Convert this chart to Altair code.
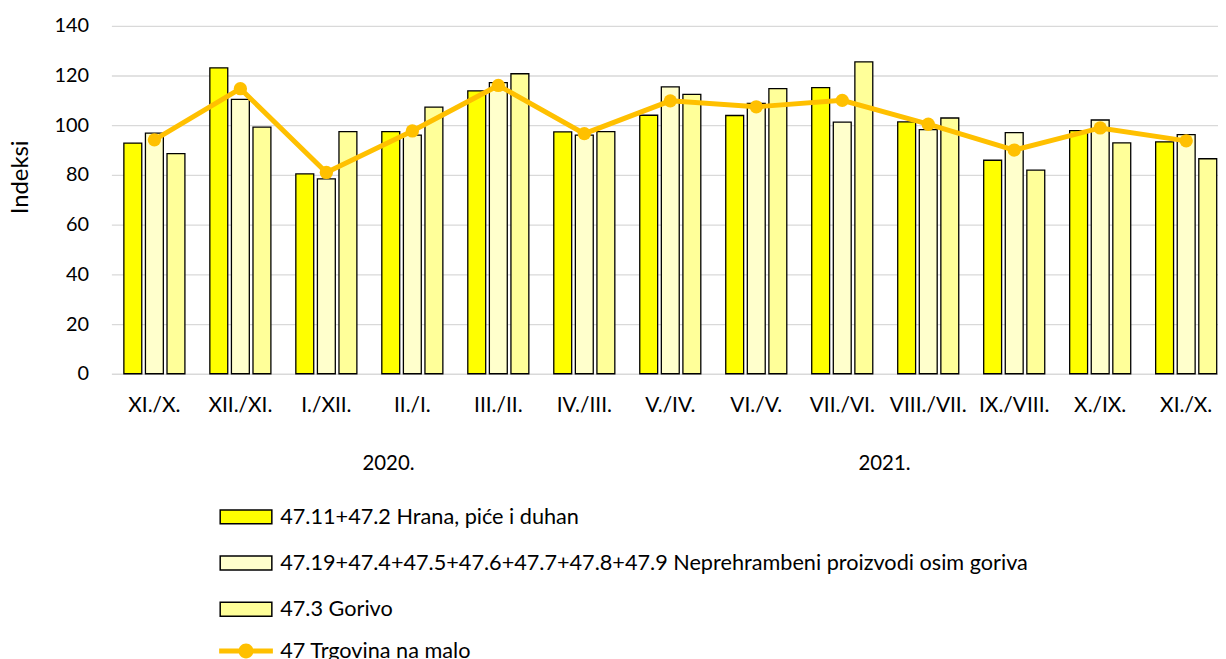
import altair as alt
import pandas as pd

# ---- data ----
periods = ["XI./X. 2020", "XII./XI. 2020", "I./XII. 2021", "II./I. 2021", "III./II. 2021",
           "IV./III. 2021", "V./IV. 2021", "VI./V. 2021", "VII./VI. 2021", "VIII./VII. 2021",
           "IX./VIII. 2021", "X./IX. 2021", "XI./X. 2021"]
hrana = [92.8, 123.1, 80.4, 97.4, 113.8, 97.3, 104.0, 103.9, 115.1, 101.3, 85.9, 97.8, 93.3]
neprehrambeni = [96.8, 110.4, 78.4, 96.0, 117.1, 96.0, 115.4, 108.8, 101.2, 98.2, 97.0, 102.1, 96.2]
gorivo = [88.6, 99.2, 97.4, 107.3, 120.7, 97.4, 112.4, 114.7, 125.5, 102.9, 81.9, 92.9, 86.5]
trgovina = [94.1, 114.7, 81.0, 97.7, 116.0, 96.6, 109.8, 107.4, 110.0, 100.4, 90.0, 98.9, 93.7]

series_names = ["47.11+47.2 Hrana, piće i duhan",
                "47.19+47.4+47.5+47.6+47.7+47.8+47.9 Neprehrambeni proizvodi osim goriva",
                "47.3 Gorivo"]
series_colors = ["#FFFF00", "#FFFFCC", "#FFFF99"]
line_name = "47 Trgovina na malo"
line_color = "#FFC000"

year_labels = ["2020.", "2021."]
year_anchor = ["II./I. 2021", "VIII./VII. 2021"]
year_dx = [-24, -44]

FONT = "Lato"

rows = []
for i, p in enumerate(periods):
    for s, vals in zip(series_names, [hrana, neprehrambeni, gorivo]):
        rows.append({"period": p, "series": s, "value": vals[i]})
bars_df = pd.DataFrame(rows)
line_df = pd.DataFrame({"period": periods, "value": trgovina, "lname": line_name})

x_scale = alt.Scale(domain=periods, paddingInner=0.29, paddingOuter=0.08, align=0.906)
x_axis = alt.Axis(title=None, labelExpr="split(datum.label, ' ')[0]", ticks=False, domain=False,
                  grid=False, labelFont=FONT, labelFontSize=21, labelColor="#000000",
                  labelBaseline="alphabetic", labelPadding=38, labelAngle=0)
y_scale = alt.Scale(domain=[0, 140], nice=False)
y_axis = alt.Axis(title="Indeksi", values=list(range(0, 141, 20)), ticks=False, domain=False,
                  grid=True, gridColor="#D9D9D9", gridWidth=1.3, labelFont=FONT, labelFontSize=20,
                  labelColor="#000000", labelPadding=23, titleFont=FONT, titleFontSize=24,
                  titleFontWeight="normal", titleColor="#000000", titleX=-84, titleY=152,
                  titleBaseline="alphabetic", titleAngle=270)

bar_symbol = "M-3.71,-1H3.71V1H-3.71Z"
line_symbol = ("M-3.86,-0.36H3.86V0.36H-3.86Z "
               "M1.07,0A1.07,1.07 0 1,1 -1.07,0A1.07,1.07 0 1,1 1.07,0Z")

bars = alt.Chart(bars_df).mark_bar(stroke="#000000", strokeWidth=1.3).encode(
    x=alt.X("period:N", scale=x_scale, axis=x_axis, sort=periods),
    xOffset=alt.XOffset("series:N", scale=alt.Scale(domain=series_names, paddingInner=0.17, paddingOuter=0)),
    y=alt.Y("value:Q", scale=y_scale, axis=y_axis),
    color=alt.Color("series:N", scale=alt.Scale(domain=series_names, range=series_colors),
                    legend=alt.Legend(title=None, orient="none", legendX=124.5, legendY=483,
                                      direction="vertical", symbolType=bar_symbol, symbolSize=196,
                                      symbolStrokeColor="#000000", symbolStrokeWidth=1.5,
                                      symbolOpacity=1, labelFont=FONT, labelFontSize=21.8,
                                      labelColor="#000000", labelOffset=23.5, labelLimit=2000,
                                      rowPadding=23.5, padding=0)),
)

line = alt.Chart(line_df).mark_line(color=line_color, strokeWidth=5).encode(
    x=alt.X("period:N", scale=x_scale, sort=periods),
    y=alt.Y("value:Q", scale=y_scale),
)

points = alt.Chart(line_df).mark_point(filled=True, size=180, opacity=1).encode(
    x=alt.X("period:N", scale=x_scale, sort=periods),
    y=alt.Y("value:Q", scale=y_scale),
    color=alt.Color("lname:N", scale=alt.Scale(domain=[line_name], range=[line_color]),
                    legend=alt.Legend(title=None, orient="none", legendX=124.5, legendY=618,
                                      symbolType=line_symbol, symbolSize=196, symbolStrokeWidth=0,
                                      symbolOpacity=1, labelFont=FONT, labelFontSize=21.8,
                                      labelColor="#000000", labelOffset=23.5, labelLimit=2000,
                                      padding=0)),
)

year_layers = []
for txt, anchor, dx in zip(year_labels, year_anchor, year_dx):
    ydf = pd.DataFrame({"period": [anchor], "text": [txt]})
    year_layers.append(
        alt.Chart(ydf).mark_text(font=FONT, fontSize=20.5, color="#000000", baseline="alphabetic",
                                 align="center", dx=dx).encode(
            x=alt.X("period:N", scale=x_scale, sort=periods),
            y=alt.value(447),
            text="text:N",
        )
    )

chart = alt.layer(bars, line, points, *year_layers).resolve_scale(color="independent").properties(
    width=1113, height=350,
    autosize=alt.AutoSizeParams(type="none"),
    padding={"left": 104, "top": 16, "right": 0, "bottom": 285},
).configure_view(stroke=None)

chart.save("out.html", embed_options={"renderer": "svg", "actions": False})
